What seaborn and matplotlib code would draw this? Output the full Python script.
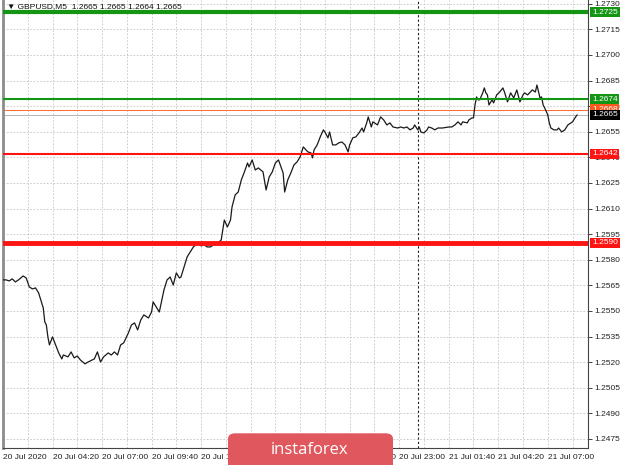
import pandas as pd
import seaborn as sns
import matplotlib.pyplot as plt
import matplotlib.transforms as mtransforms
from matplotlib.patches import FancyBboxPatch

# GBPUSD M5 close prices (bar number from the first bar)
bars = [0, 2, 4, 6, 8, 10, 13, 15, 17, 19,
        21, 23, 24, 26, 27, 28, 29, 30, 32, 34,
        36, 38, 39, 42, 44, 46, 48, 50, 53, 55,
        59, 61, 63, 65, 68, 70, 72, 74, 76, 78,
        81, 83, 85, 87, 89, 91, 94, 96, 97, 99,
        101, 104, 106, 108, 110, 112, 114, 115, 117, 119,
        121, 123, 126, 128, 130, 132, 134, 136, 139, 141,
        142, 143, 145, 147, 148, 150, 152, 154, 156, 158,
        159, 161, 163, 165, 168, 170, 172, 174, 176, 178,
        181, 182, 184, 186, 188, 190, 192, 194, 197, 199,
        200, 201, 203, 205, 207, 208, 210, 211, 213, 215,
        217, 219, 221, 223, 224, 226, 228, 230, 232, 233,
        235, 236, 238, 239, 242, 244, 246, 248, 250, 252,
        255, 257, 259, 261, 263, 265, 266, 268, 269, 270,
        272, 274, 275, 277, 279, 281, 284, 288, 290, 292,
        294, 296, 297, 300, 301, 303, 304, 305, 306, 307,
        308, 310, 311, 312, 313, 314, 316, 317, 319, 321,
        323, 324, 326, 328, 330, 332, 334, 336, 337, 339,
        342, 344, 345, 347, 348, 349, 350, 352, 353, 354,
        356, 358, 359, 361, 363, 365, 368, 370, 371]
prices = [1.25682, 1.25682, 1.25676, 1.25688, 1.25670, 1.25682, 1.25705, 1.25693, 1.25641, 1.25629,
          1.25635, 1.25606, 1.25576, 1.25518, 1.25436, 1.25418, 1.25348, 1.25301, 1.25348, 1.25301,
          1.25254, 1.25219, 1.25242, 1.25231, 1.25260, 1.25225, 1.25236, 1.25213, 1.25190, 1.25201,
          1.25219, 1.25260, 1.25201, 1.25231, 1.25254, 1.25242, 1.25260, 1.25242, 1.25301, 1.25313,
          1.25371, 1.25418, 1.25430, 1.25389, 1.25447, 1.25477, 1.25459, 1.25494, 1.25553, 1.25524,
          1.25494, 1.25623, 1.25682, 1.25699, 1.25652, 1.25723, 1.25693, 1.25699, 1.25758, 1.25817,
          1.25846, 1.25875, 1.25899, 1.25881, 1.25887, 1.25875, 1.25875, 1.25887, 1.25899, 1.25916,
          1.25975, 1.26033, 1.25992, 1.26033, 1.26110, 1.26180, 1.26197, 1.26268, 1.26315, 1.26367,
          1.26344, 1.26385, 1.26326, 1.26338, 1.26315, 1.26209, 1.26285, 1.26315, 1.26367, 1.26385,
          1.26309, 1.26197, 1.26268, 1.26309, 1.26356, 1.26373, 1.26403, 1.26461, 1.26432, 1.26426,
          1.26397, 1.26444, 1.26473, 1.26520, 1.26561, 1.26549, 1.26514, 1.26549, 1.26473, 1.26473,
          1.26485, 1.26490, 1.26473, 1.26432, 1.26473, 1.26514, 1.26520, 1.26543, 1.26572, 1.26549,
          1.26602, 1.26637, 1.26578, 1.26608, 1.26590, 1.26637, 1.26619, 1.26590, 1.26602, 1.26578,
          1.26572, 1.26578, 1.26572, 1.26578, 1.26561, 1.26572, 1.26590, 1.26561, 1.26578, 1.26549,
          1.26543, 1.26561, 1.26578, 1.26572, 1.26561, 1.26572, 1.26572, 1.26578, 1.26578, 1.26590,
          1.26608, 1.26590, 1.26608, 1.26602, 1.26619, 1.26631, 1.26631, 1.26707, 1.26754, 1.26737,
          1.26737, 1.26778, 1.26807, 1.26778, 1.26766, 1.26707, 1.26737, 1.26719, 1.26766, 1.26783,
          1.26807, 1.26783, 1.26725, 1.26778, 1.26748, 1.26795, 1.26725, 1.26766, 1.26778, 1.26766,
          1.26795, 1.26783, 1.26824, 1.26748, 1.26754, 1.26707, 1.26690, 1.26649, 1.26602, 1.26572,
          1.26561, 1.26561, 1.26572, 1.26549, 1.26561, 1.26590, 1.26608, 1.26637, 1.26649]

# support / resistance levels
levels = [1.2725, 1.2674, 1.2642, 1.2590]
level_colors = ['#149614', '#149614', '#ff1414', '#ff1414']
level_widths = [3.0, 1.5, 1.5, 3.5]
ask_level = 1.2668
bid_level = 1.2665

y_ticks = [1.2475, 1.2490, 1.2505, 1.2520, 1.2535, 1.2550, 1.2565, 1.2580, 1.2595,
           1.2610, 1.2625, 1.2640, 1.2655, 1.2670, 1.2685, 1.2700, 1.2715, 1.2730]
x_tick_bars = [0, 32, 64, 96, 128, 160, 192, 224, 256, 288, 320, 352]
x_tick_labels = ['20 Jul 2020', '20 Jul 04:20', '20 Jul 07:00', '20 Jul 09:40',
                 '20 Jul 12:20', '20 Jul 15:00', '20 Jul 17:40', '20 Jul 20:20',
                 '20 Jul 23:00', '21 Jul 01:40', '21 Jul 04:20', '21 Jul 07:00']
day_break_bar = 268

df = pd.DataFrame({'bar': bars, 'price': prices})

sns.set_style('white')
plt.rcParams['font.family'] = ['Liberation Sans', 'DejaVu Sans']

fig = plt.figure(figsize=(6.2, 4.65), dpi=100)
ax = fig.add_axes([3 / 620, 17 / 465, 585 / 620, 448 / 465])

grid_kw = dict(color='#c4c4c4', linestyle=(0, (2, 2)), linewidth=0.6, zorder=0)
for b in range(16, 378, 16):
    ax.axvline(b, **grid_kw)
for t in y_ticks:
    ax.axhline(t, **grid_kw)
ax.axvline(day_break_bar, color='#202020', linestyle=(0, (2, 2)), linewidth=0.8, zorder=1)

sns.lineplot(data=df, x='bar', y='price', ax=ax, color='#1a1a1a', linewidth=0.9, zorder=3)

for lv, c, w in zip(levels, level_colors, level_widths):
    ax.axhline(lv, color=c, linewidth=w, zorder=4)
ax.axhline(ask_level, color='#ff6a2a', linewidth=0.7, zorder=2)
ax.axhline(bid_level, color='#b4b4b4', linewidth=0.7, zorder=2)

ax.set_xlim(0, 378)
ax.set_ylim(1.24697, 1.27322)
ax.set_xlabel('')
ax.set_ylabel('')

ax.yaxis.tick_right()
ax.set_yticks(y_ticks)
ax.set_yticklabels([f'{t:.4f}' for t in y_ticks])
ax.set_xticks(x_tick_bars)
ax.set_xticklabels(x_tick_labels, ha='left')
ax.tick_params(axis='both', labelsize=6, colors='#222222', length=3, width=0.6, pad=1.5)

ax.spines['top'].set_visible(False)
ax.spines['left'].set_color('#8c8c8c')
ax.spines['left'].set_linewidth(2)
ax.spines['right'].set_color('#444444')
ax.spines['right'].set_linewidth(0.8)
ax.spines['bottom'].set_color('#444444')
ax.spines['bottom'].set_linewidth(0.8)

# coloured price tags on the right scale
trans = mtransforms.blended_transform_factory(ax.transAxes, ax.transData)
tags = [(levels[0], level_colors[0]), (levels[1], level_colors[1]),
        (ask_level, '#ff5a1e'), (bid_level, '#000000'),
        (levels[2], level_colors[2]), (levels[3], level_colors[3])]
for val, col in tags:
    ax.text(1.007, val, f'{val:.4f}', transform=trans, fontsize=6, color='white',
            va='center', ha='left', clip_on=False, zorder=6,
            bbox=dict(boxstyle='square,pad=0.2', facecolor=col, edgecolor='none'))

ax.text(0.006, 0.994, '\u25bc GBPUSD,M5  1.2665 1.2665 1.2664 1.2665', transform=ax.transAxes,
        fontsize=6, color='#111111', va='top', ha='left', zorder=5)

# watermark
fig.patches.append(FancyBboxPatch((228 / 620, -0.02), 165 / 620, 41 / 465,
                                  boxstyle='round,pad=0,rounding_size=0.012',
                                  transform=fig.transFigure, facecolor='#e0585d',
                                  edgecolor='none', zorder=10))
fig.text(310 / 620, 15 / 465, 'instaforex', fontsize=12, color='white',
         family=['Open Sans', 'DejaVu Sans'], ha='center', va='center', zorder=11)

fig.savefig('out.png', dpi=100)
